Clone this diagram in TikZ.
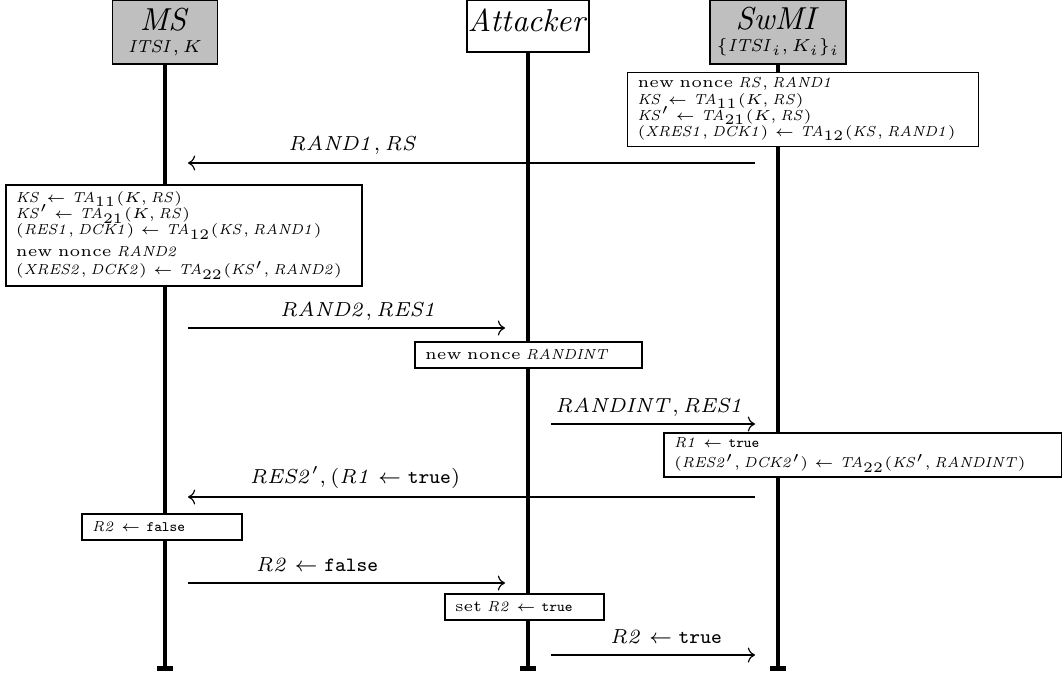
\documentclass[tikz,border=0pt]{standalone}
\usetikzlibrary{arrows.meta}
\newdimen\pxu
\pxu=0.345pt
\newcommand{\vn}[1]{\mathit{#1}}
\newcommand{\boxfont}{\fontsize{5.45}{5.6}\selectfont\lineskiplimit=-20pt\relax
  \relpenalty=10000\relax\binoppenalty=10000\relax\hbadness=10000\relax\hfuzz=20pt\relax}
\newcommand{\subfont}{\fontsize{6}{7}\selectfont}
\tikzset{
  head/.style={draw, line width=0.4pt, inner sep=0pt, align=center,
    font=\fontsize{11}{7.6}\selectfont},
  actor/.style={head, fill=gray!50},
  lifeline/.style={line width=1.7pt, -{Bar[width=5.5pt]}},
  actbox/.style={draw, fill=white, line width=0.4pt, inner xsep=10\pxu, inner ysep=0pt,
    align=left, font=\boxfont},
  msg/.style={line width=0.4pt, ->},
  lbl/.style={anchor=base, inner sep=0pt, font=\scriptsize},
}
\begin{document}
\begin{tikzpicture}[x=0.345pt, y=-0.345pt]
\useasboundingbox (0,0) rectangle (1062,682);

% participants
\node[actor, minimum width=105\pxu, minimum height=64\pxu] (ms) at (165,32)
  {$\vn{MS}$\\{\subfont$\vn{ITSI}, K$}};
\node[head, fill=white, minimum width=122\pxu, minimum height=52\pxu, text depth=3.5pt] (att) at (528,26)
  {$\vn{Attacker}$};
\node[actor, minimum width=136\pxu, minimum height=64\pxu] (sw) at (778,32)
  {$\vn{SwMI}$\\{\subfont$\{\vn{ITSI}_i, K_i\}_i$}};

% lifelines
\coordinate (msend) at (165,671);
\coordinate (attend) at (528,671);
\coordinate (swend) at (778,671);
\draw[lifeline] (ms.south) -- (msend);
\draw[lifeline] (att.south) -- (attend);
\draw[lifeline] (sw.south) -- (swend);

% local computations
\node[actbox, minimum width=351\pxu, minimum height=74\pxu, text width=331\pxu] (sb1) at (803,109.5)
  {new nonce $\vn{RS}, \vn{RAND1}$\\
   $\vn{KS} \leftarrow \vn{TA}_{11}(K, \vn{RS})$\\
   $\vn{KS}' \leftarrow \vn{TA}_{21}(K, \vn{RS})$\\
   $(\vn{XRES1}, \vn{DCK1}) \leftarrow \vn{TA}_{12}(\vn{KS}, \vn{RAND1})$};

\node[actbox, minimum width=356\pxu, minimum height=101\pxu, text width=336\pxu] (mb1) at (184,235.5)
  {$\vn{KS} \leftarrow \vn{TA}_{11}(K, \vn{RS})$\\
   $\vn{KS}' \leftarrow \vn{TA}_{21}(K, \vn{RS})$\\
   $(\vn{RES1}, \vn{DCK1}) \leftarrow \vn{TA}_{12}(\vn{KS}, \vn{RAND1})$\\[1.8pt]
   new nonce $\vn{RAND2}$\\[0.8pt]
   $(\vn{XRES2}, \vn{DCK2}) \leftarrow \vn{TA}_{22}(\vn{KS}', \vn{RAND2})$};

\node[actbox, minimum width=227\pxu, minimum height=26\pxu, text width=207\pxu] (ab1) at (528.5,355)
  {new nonce $\vn{RANDINT}$};

\node[actbox, minimum width=398\pxu, minimum height=44\pxu, text width=378\pxu] (sb2) at (863,455)
  {$\vn{R1} \leftarrow \mathtt{true}$\\[1.4pt]
   $(\vn{RES2}', \vn{DCK2}') \leftarrow \vn{TA}_{22}(\vn{KS}', \vn{RANDINT})$};

\node[actbox, minimum width=160\pxu, minimum height=26\pxu, text width=140\pxu] (mb2) at (162,527)
  {$\vn{R2} \leftarrow \mathtt{false}$};

\node[actbox, minimum width=159\pxu, minimum height=26\pxu, text width=139\pxu] (ab2) at (524.5,607)
  {set $\vn{R2} \leftarrow \mathtt{true}$};

% message end points
\coordinate (m1a) at (755,163);  \coordinate (m1b) at (188,163);
\coordinate (m2a) at (188,328);  \coordinate (m2b) at (505,328);
\coordinate (m3a) at (551,424);  \coordinate (m3b) at (755,424);
\coordinate (m4a) at (755,497);  \coordinate (m4b) at (188,497);
\coordinate (m5a) at (188,583);  \coordinate (m5b) at (505,583);
\coordinate (m6a) at (551,655);  \coordinate (m6b) at (755,655);

% messages
\draw[msg] (m1a) -- (m1b);
\draw[msg] (m2a) -- (m2b);
\draw[msg] (m3a) -- (m3b);
\draw[msg] (m4a) -- (m4b);
\draw[msg] (m5a) -- (m5b);
\draw[msg] (m6a) -- (m6b);

% message labels
\node[lbl] (l1) at (353,151) {$\vn{RAND1}, \vn{RS}$};
\node[lbl] (l2) at (359,317) {$\vn{RAND2}, \vn{RES1}$};
\node[lbl] (l3) at (650,412) {$\vn{RANDINT}, \vn{RES1}$};
\node[lbl] (l4) at (355,483) {$\vn{RES2}', (\vn{R1} \leftarrow \mathtt{true})$};
\node[lbl] (l5) at (317,571) {$\vn{R2} \leftarrow \mathtt{false}$};
\node[lbl] (l6) at (666,643) {$\vn{R2} \leftarrow \mathtt{true}$};
\end{tikzpicture}
\end{document}
